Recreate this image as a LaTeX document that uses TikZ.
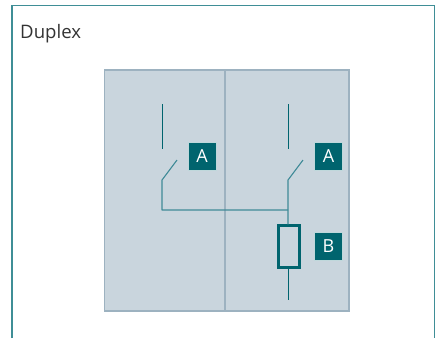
\documentclass[tikz,border=0pt]{standalone}
\usepackage{fontspec}
\setmainfont{Open Sans}
\definecolor{petrol}{HTML}{00646E}
\definecolor{framecol}{HTML}{3F8E96}
\definecolor{panelcol}{HTML}{C9D5DD}
\definecolor{paneledge}{HTML}{9DB2C0}
\definecolor{wirecol}{HTML}{3F8A97}
\tikzset{
  badge/.style={fill=petrol,draw=petrol!25,line width=0.5pt,text=white,minimum size=28pt,inner sep=0pt,font=\fontsize{18}{18}\selectfont},
  wire/.style={wirecol,line width=1.1pt,line join=round},
  contact/.style={petrol,line width=1pt}
}
\begin{document}
\begin{tikzpicture}[x=1pt,y=-1pt]
\useasboundingbox (0,0) rectangle (437,338);
\draw[framecol,line width=1.1pt] (12,338) -- (12,5.5) -- (434.5,5.5) -- (434.5,338);
\node[anchor=west,inner sep=0,font=\fontsize{18.6}{18.6}\selectfont,text=black!80] (title) at (20,33.5) {Duplex};
\draw[paneledge,fill=panelcol,line width=1.2pt] (104.8,70) rectangle (349,311);
\draw[paneledge,line width=1.2pt] (225,70) -- (225,311);
% left contact
\coordinate (c1top) at (162.5,104);
\coordinate (c1end) at (162.5,149);
\coordinate (s1a) at (177,160);
\coordinate (s1b) at (162,180);
\coordinate (j1) at (162,210);
% right contact
\coordinate (c2top) at (288.5,104);
\coordinate (c2end) at (288.5,149);
\coordinate (s2a) at (303,160);
\coordinate (s2b) at (288,180);
\coordinate (j2) at (288,210);
\node[draw=petrol,line width=2.2pt,minimum width=21pt,minimum height=42pt,inner sep=0pt] (coil) at (289,246.5) {};
\coordinate (coilend) at (288.5,300);
\draw[contact] (c1top) -- (c1end);
\draw[contact] (c2top) -- (c2end);
\draw[wire] (s1a) -- (s1b) -- (j1) -- (j2);
\draw[wire] (s2a) -- (s2b) -- (j2) -- (j2 |- coil.north);
\draw[contact] (coilend |- coil.south) -- (coilend);
\node[badge] (a1) at (202,156) {A};
\node[badge] (a2) at (328.5,156) {A};
\node[badge] (b1) at (328.5,246.5) {B};
\end{tikzpicture}
\end{document}
